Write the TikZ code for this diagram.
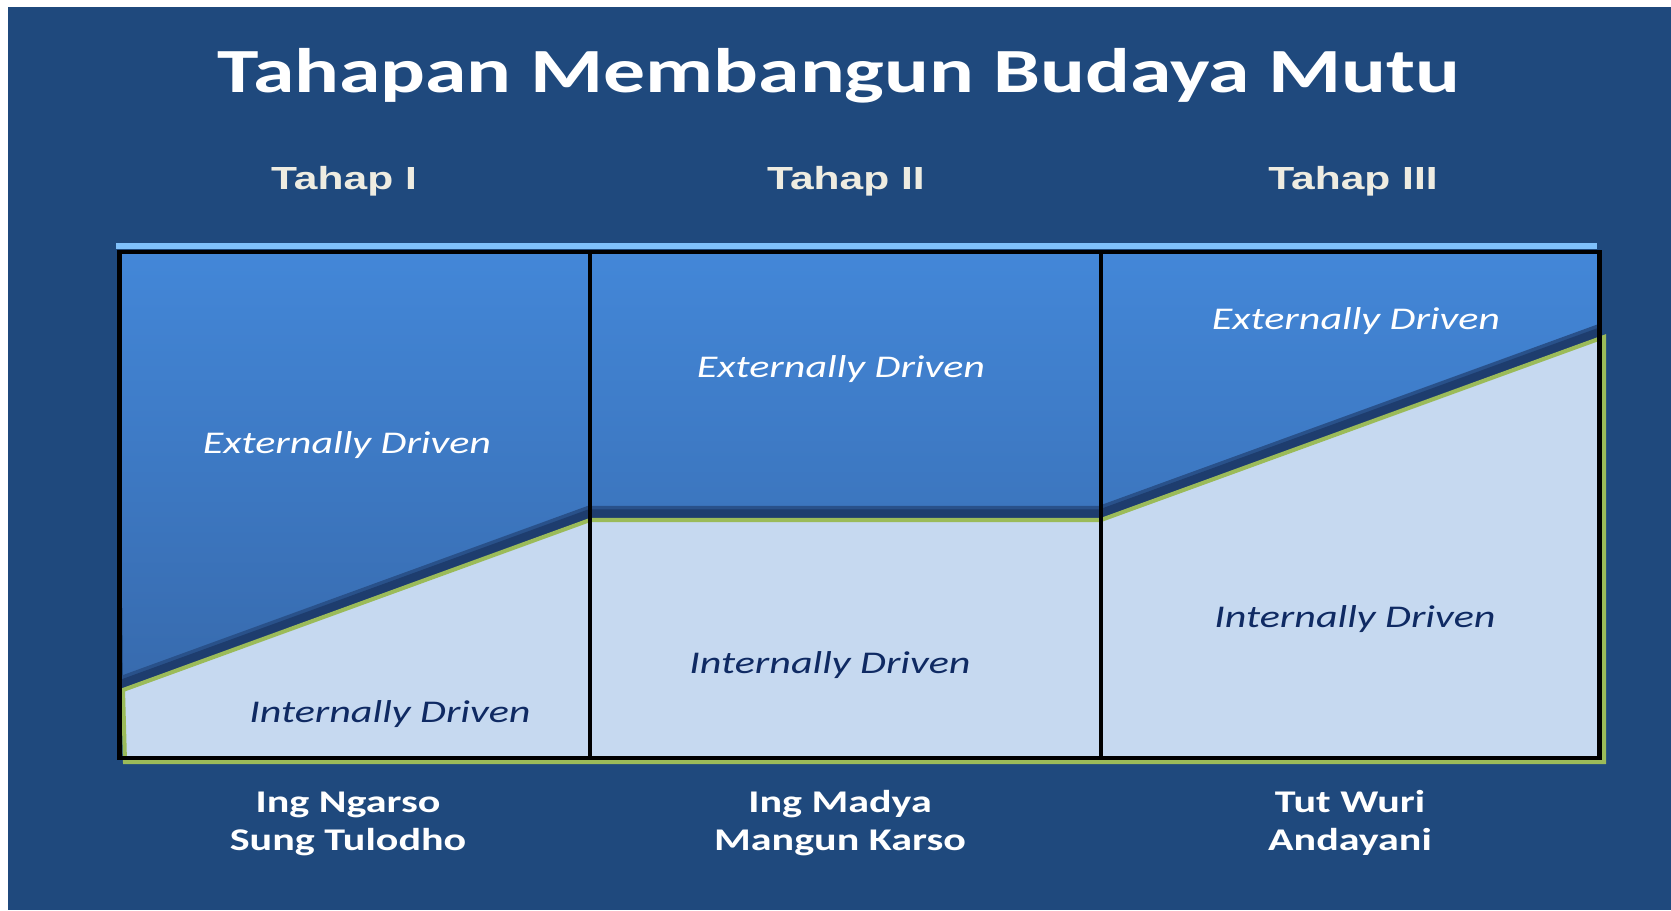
\documentclass[tikz,border=0pt]{standalone}
\usepackage{fontspec}
\setmainfont{Carlito}
\newfontfamily\headfont{Liberation Sans}
\definecolor{SlideClr}{HTML}{1F497D}
\definecolor{BandClr}{HTML}{7FC0FA}
\definecolor{TopClr}{HTML}{4387D8}
\definecolor{LowClr}{HTML}{376AAD}
\definecolor{EdgeClr}{HTML}{1E3D6E}
\definecolor{InClr}{HTML}{C6D9F0}
\definecolor{LineClr}{HTML}{9BBB59}
\definecolor{HeadClr}{HTML}{EEECE1}
\definecolor{NavyClr}{HTML}{0F2A63}
\newcommand{\stretchx}[1]{\scalebox{1.33}[1]{#1}}

\begin{document}
\begin{tikzpicture}[x=0.02cm,y=-0.02cm,
  stage/.style={font=\headfont\fontsize{18.2}{20}\selectfont\bfseries,text=HeadClr,anchor=base,inner sep=0pt},
  ext/.style={font=\fontsize{18}{20}\selectfont\itshape,text=white,anchor=base,inner sep=0pt},
  int/.style={ext,text=NavyClr},
  motto/.style={font=\fontsize{18}{21.6}\selectfont\bfseries,text=white,anchor=base,align=center,inner sep=0pt}]
\useasboundingbox (0,0) rectangle (1671,910);
\fill[SlideClr] (8,7) rectangle (1671,910);

% boundary between external and internal drive
\coordinate (A) at (123,690);
\coordinate (B) at (590,520);
\coordinate (C) at (1101,520);
\coordinate (D) at (1604,337);

\fill[BandClr] (116,243) rectangle (1597,249);
\begin{scope}
\clip (119,252) rectangle (1600,758);
\shade[top color=TopClr,bottom color=LowClr] (119,252) -| (D) -- (C) -- (B) -- (A) -- cycle;
\draw[EdgeClr!55!LowClr,line width=16pt] (A) -- (B) -- (C) -- (D);
\draw[EdgeClr,line width=12pt] (A) -- (B) -- (C) -- (D);
\end{scope}
\filldraw[fill=InClr,draw=LineClr,line width=2.3pt] (A) -- (B) -- (C) -- (D) -- (1604,762) -- (125,762) -- cycle;

% frame and stages
\draw[black,line width=2.8pt] (119.5,252) rectangle (1599.5,758);
\draw[black,line width=2.8pt] (590,252) -- (590,758) (1101,252) -- (1101,758);

\node[anchor=base,inner sep=0pt,font=\fontsize{35.8}{40}\selectfont\bfseries,text=white] (title) at (839,92) {\stretchx{Tahapan Membangun Budaya Mutu}};

\node[stage] (st1) at (344,189) {\stretchx{Tahap I}};
\node[stage] (st2) at (846,189) {\stretchx{Tahap II}};
\node[stage] (st3) at (1353,189) {\stretchx{Tahap III}};

\node[ext] (ex1) at (347,453) {\stretchx{Externally Driven}};
\node[int] (in1) at (390,722) {\stretchx{Internally Driven}};
\node[ext] (ex2) at (841,377) {\stretchx{Externally Driven}};
\node[int] (in2) at (830,673) {\stretchx{Internally Driven}};
\node[ext] (ex3) at (1356,329) {\stretchx{Externally Driven}};
\node[int] (in3) at (1355,627) {\stretchx{Internally Driven}};

% mottos, base is the second line
\node[motto] (mo1) at (348,850) {\stretchx{Ing Ngarso}\\\stretchx{Sung Tulodho}};
\node[motto] (mo2) at (840,850) {\stretchx{Ing Madya}\\\stretchx{Mangun Karso}};
\node[motto] (mo3) at (1350,850) {\stretchx{Tut Wuri}\\\stretchx{Andayani}};
\end{tikzpicture}
\end{document}
